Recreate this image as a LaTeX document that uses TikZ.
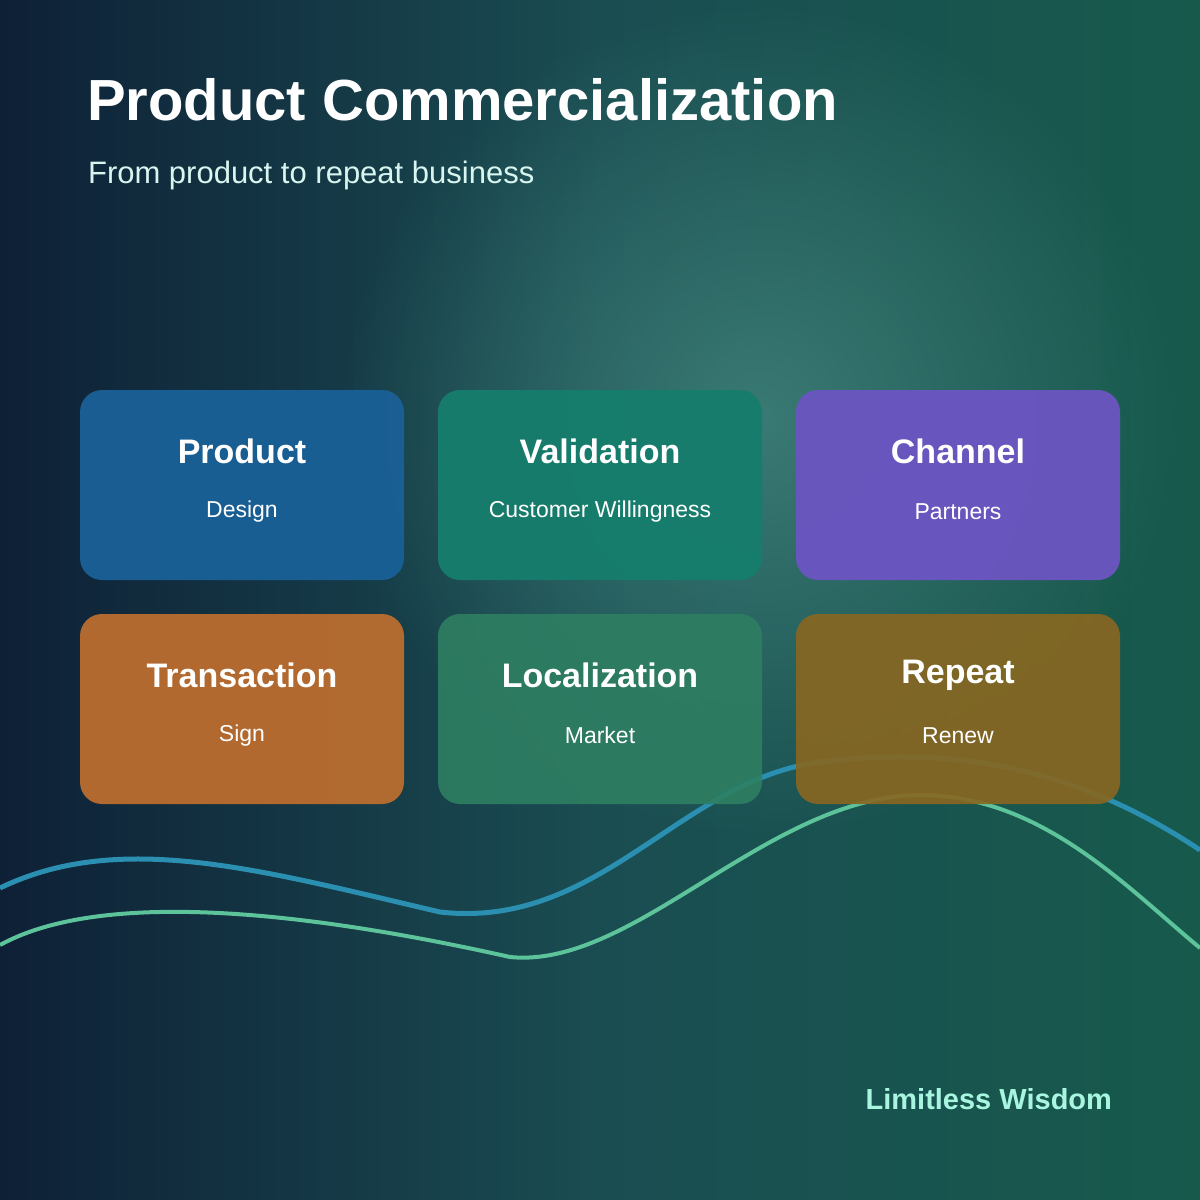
\documentclass[tikz,border=0pt]{standalone}
\usepackage{fontspec}
\setmainfont{Liberation Sans}
\usetikzlibrary{fadings}
\tikzfading[name=myglow, inner color=transparent!0, outer color=transparent!100]
\definecolor{bgA}{HTML}{0E2036}
\definecolor{bgB}{HTML}{1A4D52}
\definecolor{bgC}{HTML}{175A4C}
\definecolor{glow}{HTML}{3E7F78}
\definecolor{cP}{HTML}{1A6096}
\definecolor{cV}{HTML}{167D6C}
\definecolor{cC}{HTML}{6B55C1}
\definecolor{cT}{HTML}{B86C30}
\definecolor{cL}{HTML}{2E7F62}
\definecolor{cR}{HTML}{876722}
\definecolor{wblue}{HTML}{2A8FB0}
\definecolor{wgreen}{HTML}{5CC39A}
\definecolor{subc}{HTML}{D8F5F0}
\definecolor{footc}{HTML}{A8F5E0}
\tikzset{
 card/.style={rounded corners=11pt, minimum width=162pt, minimum height=95pt, fill opacity=0.96, inner sep=0pt},
 ttl/.style={font=\bfseries\fontsize{17}{20}\selectfont, text=white},
 sub/.style={font=\fontsize{11.5}{14}\selectfont, text=white},
}
\begin{document}
\begin{tikzpicture}[x=0.5pt,y=-0.5pt]
\useasboundingbox (0,0) rectangle (1200,1200);
\shade[shading=axis, shading angle=135, left color=bgA, right color=bgC, middle color=bgB] (0,0) rectangle (1200,1200);
\fill[glow, path fading=myglow, opacity=0.9] (760,420) circle (420);
\draw[wblue, line width=2.5pt] (0,888) .. controls (120,830) and (260,870) .. (440,912) .. controls (600,930) and (680,780) .. (820,762) .. controls (960,745) and (1080,770) .. (1200,850);
\draw[wgreen, line width=2pt] (0,945) .. controls (100,890) and (300,910) .. (510,957) .. controls (640,970) and (780,780) .. (940,796) .. controls (1050,805) and (1130,890) .. (1200,948);
\node[card, fill=cP] (p) at (242,485) {};
\node[card, fill=cV] (v) at (600,485) {};
\node[card, fill=cC] (c) at (958,485) {};
\node[card, fill=cT] (t) at (242,709) {};
\node[card, fill=cL, fill opacity=0.9] (l) at (600,709) {};
\node[card, fill=cR, fill opacity=0.92] (r) at (958,709) {};
\foreach \n/\a/\b in {p/Product/Design / Supply, v/Validation/Customer Willingness, c/Channel/Partners / Routes, t/Transaction/Sign / Pay, l/Localization/Market / Service, r/Repeat/Renew / Refer}{
 \node[ttl] (\n t) at ([yshift=-31pt]\n.north) {\a};
 \node[sub] (\n s) at ([yshift=-61pt]\n.north) {\b};
}
\node[anchor=base west, font=\bfseries\fontsize{29}{34}\selectfont, text=white] (title) at (80,120) {Product Commercialization};
\node[anchor=base west, font=\fontsize{15.5}{18}\selectfont, text=subc] (subt) at (81,183) {From product to repeat business};
\node[anchor=base east, font=\bfseries\fontsize{14.5}{17}\selectfont, text=footc] (foot) at (1119,1109) {Limitless Wisdom};
\end{tikzpicture}
\end{document}
